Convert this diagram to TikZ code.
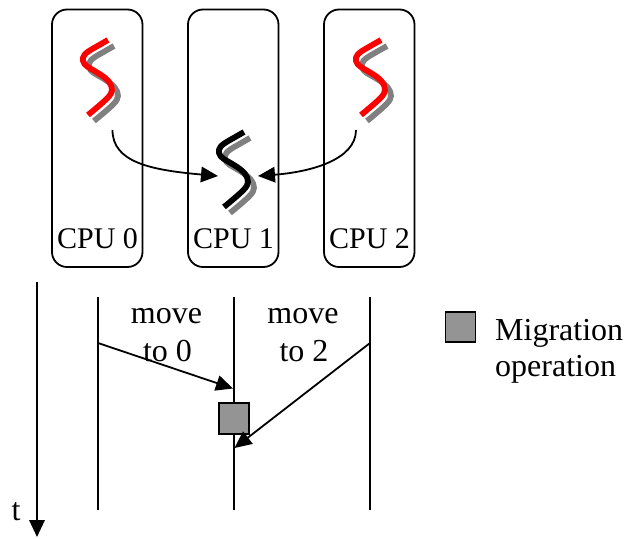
\documentclass[tikz,border=0pt]{standalone}
\usepackage{fontspec}
\setmainfont{Liberation Serif}
\usetikzlibrary{arrows.meta}
\tikzset{
  cpubox/.style={draw=black,line width=1.8pt,rounded corners=15pt},
  conn/.style={draw=black,line width=1.8pt,-{Triangle[length=17pt,width=15.5pt]}},
  lane/.style={draw=black,line width=1.8pt},
  migbox/.style={draw=black,line width=1.8pt,fill=black!42},
  lbl/.style={font=\fontsize{32}{36}\selectfont,inner sep=0pt,anchor=base},
  lbll/.style={font=\fontsize{32}{36}\selectfont,inner sep=0pt,anchor=base west},
  cpulbl/.style={font=\fontsize{30}{34}\selectfont,inner sep=0pt,anchor=base},
  squig/.pic={
    \draw[pic actions,line cap=butt,line join=round] (108,40) -- (94,48) .. controls (85,53) and (82,56) .. (83,61)
      .. controls (84,66) and (90,68) .. (98,73) .. controls (108,79) and (112,84) .. (112,90)
      .. controls (112,95) and (106,100) .. (88,115);
  },
  sh/.style={draw=black!50,line width=5.8pt},
  rd/.style={draw=red,line width=5.8pt},
  bk/.style={draw=black,line width=5.8pt}
}
\begin{document}
\begin{tikzpicture}[x=1pt,y=-1pt]
\useasboundingbox (0,0) rectangle (626,538);
% CPU boxes
\draw[cpubox] (52,9.5) rectangle (142.5,267);
\draw[cpubox] (188,9.5) rectangle (278.5,267);
\draw[cpubox] (324,9.5) rectangle (414.5,267);
\node[cpulbl] (c0) at (97.5,248) {CPU 0};
\node[cpulbl] (c1) at (233.5,248) {CPU 1};
\node[cpulbl] (c2) at (369.5,248) {CPU 2};
% threads
\pic[sh] at (6,6) {squig};
\pic[rd] at (0,0) {squig};
\pic[sh] at (279,6) {squig};
\pic[rd] at (273,0) {squig};
\pic[sh] at (142,98) {squig};
\pic[bk] at (136,92) {squig};
% migration arrows
\coordinate (s0) at (112.5,130);
\coordinate (s2) at (356,130);
\coordinate (t0) at (218,176);
\coordinate (t2) at (258,176);
\draw[conn] (s0) .. controls (112.5,162) and (150,170) .. (t0);
\draw[conn] (s2) .. controls (356,160) and (310,172) .. (t2);
% timeline
\coordinate (ta) at (37,282);
\coordinate (tb) at (37,537);
\draw[conn] (ta) -- (tb);
\node[lbl] (tl) at (16,520) {t};
\coordinate (l0a) at (98,297); \coordinate (l0b) at (98,510);
\coordinate (l1a) at (233.8,297); \coordinate (l1b) at (233.8,510);
\coordinate (l2a) at (370,297); \coordinate (l2b) at (370,510);
\draw[lane] (l0a) -- (l0b);
\draw[lane] (l1a) -- (l1b);
\draw[lane] (l2a) -- (l2b);
\node[lbl] (m0) at (166.5,323) {move};
\node[lbl] (m0b) at (167.5,361) {to 0};
\node[lbl] (m2) at (303,323) {move};
\node[lbl] (m2b) at (304,361) {to 2};
\coordinate (a0s) at (98,343);
\coordinate (a0t) at (233,388.5);
\coordinate (a2s) at (370,343);
\coordinate (a2t) at (234.5,448);
\node[migbox,minimum width=30pt,minimum height=30.5pt,inner sep=0pt] (mig) at (233.8,418.5) {};
\draw[conn] (a0s) -- (a0t);
\draw[conn] (a2s) -- (a2t);
% legend
\node[migbox,minimum width=30pt,minimum height=30pt,inner sep=0pt] (leg) at (460.5,327) {};
\node[lbll] (lg1) at (495,340) {Migration};
\node[lbll] (lg2) at (495,376) {operation};
\end{tikzpicture}
\end{document}
